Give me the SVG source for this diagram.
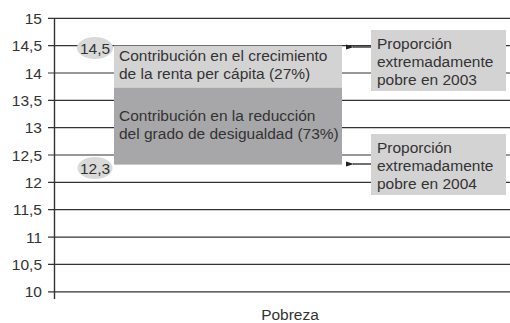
<svg xmlns="http://www.w3.org/2000/svg" width="510" height="323" viewBox="0 0 510 323">
<style>
.grid{stroke:#333;stroke-width:1.2}
.axis{stroke:#333;stroke-width:1.4}
.tl{font-family:"Liberation Sans",Arial,sans-serif;font-size:15.5px;fill:#333;text-anchor:end}
.t{font-family:"Liberation Sans",Arial,sans-serif;font-size:15.5px;fill:#333}
.lbl{fill:#d3d3d4}
.ell{fill:#d9d9d9}
.conn{stroke:#222;stroke-width:1.3;fill:none}
</style>
<defs>
<marker id="ah" markerWidth="8" markerHeight="6" refX="1" refY="3" orient="auto" markerUnits="userSpaceOnUse">
<path d="M8,0.5 L0,3 L8,5.5 Z" fill="#222"/>
</marker>
</defs>
<rect width="510" height="323" fill="#fff"/>
<g id="axis">
<line class="grid" x1="48" y1="18.3" x2="510" y2="18.3"/>
<line class="grid" x1="48" y1="45.6" x2="510" y2="45.6"/>
<line class="grid" x1="48" y1="73" x2="510" y2="73"/>
<line class="grid" x1="48" y1="100.3" x2="510" y2="100.3"/>
<line class="grid" x1="48" y1="127.7" x2="510" y2="127.7"/>
<line class="grid" x1="48" y1="155" x2="510" y2="155"/>
<line class="grid" x1="48" y1="182.4" x2="510" y2="182.4"/>
<line class="grid" x1="48" y1="209.7" x2="510" y2="209.7"/>
<line class="grid" x1="48" y1="237.1" x2="510" y2="237.1"/>
<line class="grid" x1="48" y1="264.4" x2="510" y2="264.4"/>
<line class="grid" x1="48" y1="291.8" x2="510" y2="291.8"/>
<line class="axis" x1="54.5" y1="18" x2="54.5" y2="299"/>
<text class="tl" x="42" y="23.9">15</text>
<text class="tl" x="42" y="51.2">14,5</text>
<text class="tl" x="42" y="78.6">14</text>
<text class="tl" x="42" y="105.9">13,5</text>
<text class="tl" x="42" y="133.3">13</text>
<text class="tl" x="42" y="160.6">12,5</text>
<text class="tl" x="42" y="188">12</text>
<text class="tl" x="42" y="215.3">11,5</text>
<text class="tl" x="42" y="242.7">11</text>
<text class="tl" x="42" y="270">10,5</text>
<text class="tl" x="42" y="297.4">10</text>
<text class="t" x="290" y="320" text-anchor="middle">Pobreza</text>
</g>
<g id="bar-renta">
<rect x="114" y="45.6" width="228" height="42" fill="#d3d3d4"/>
<text class="t" x="119" y="61"><tspan x="119">Contribución en el crecimiento</tspan><tspan x="119" dy="18">de la renta per cápita (27%)</tspan></text>
</g>
<g id="bar-desigualdad">
<rect x="114" y="87.6" width="228" height="77" fill="#a7a7a9"/>
<text class="t" x="119" y="121"><tspan x="119">Contribución en la reducción</tspan><tspan x="119" dy="18">del grado de desigualdad (73%)</tspan></text>
</g>
<g id="val-145">
<ellipse class="ell" cx="95" cy="48" rx="18" ry="11"/>
<text class="t" x="95" y="53.5" text-anchor="middle">14,5</text>
</g>
<g id="val-123">
<ellipse class="ell" cx="95" cy="168" rx="17.5" ry="11"/>
<text class="t" x="95" y="173.5" text-anchor="middle">12,3</text>
</g>
<g id="label-2003">
<rect class="lbl" x="371" y="30" width="135" height="61"/>
<text class="t" x="377" y="49"><tspan x="377">Proporción</tspan><tspan x="377" dy="18">extremadamente</tspan><tspan x="377" dy="18">pobre en 2003</tspan></text>
</g>
<g id="label-2004">
<rect class="lbl" x="371" y="134" width="135" height="61"/>
<text class="t" x="377" y="153"><tspan x="377">Proporción</tspan><tspan x="377" dy="18">extremadamente</tspan><tspan x="377" dy="18">pobre en 2004</tspan></text>
</g>
<g id="connectors">
<line class="conn" x1="371" y1="47" x2="353" y2="47" marker-end="url(#ah)"/>
<line class="conn" x1="371" y1="164" x2="353" y2="164" marker-end="url(#ah)"/>
</g>
</svg>
